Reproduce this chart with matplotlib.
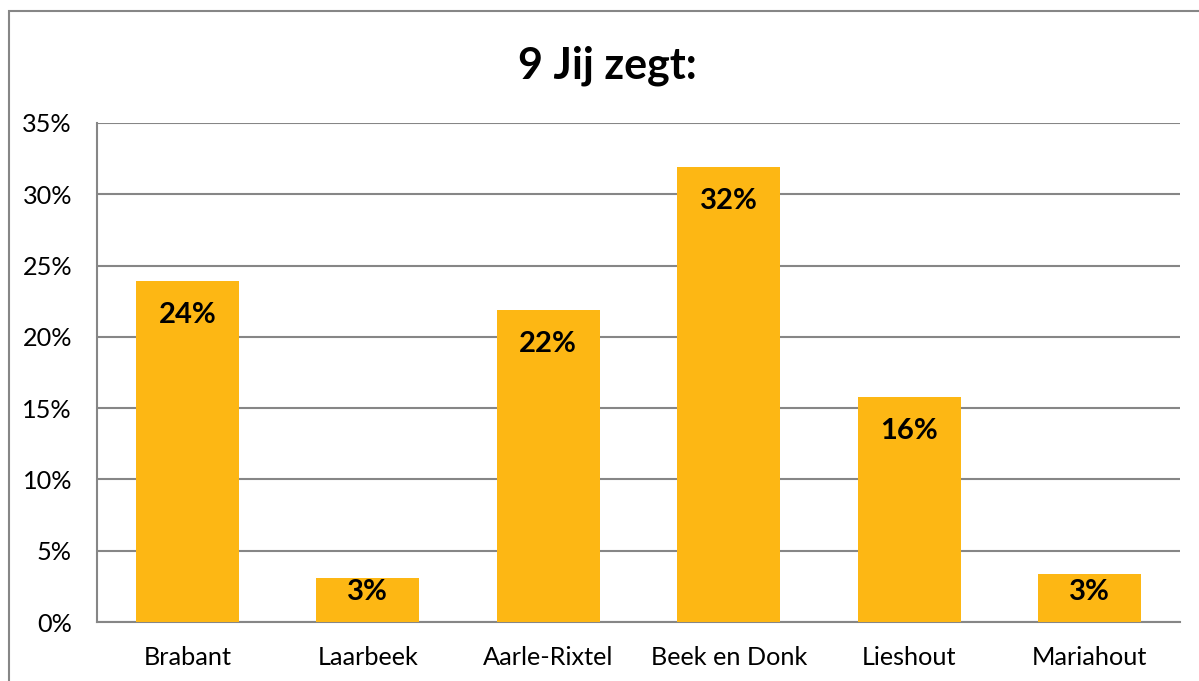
import matplotlib
matplotlib.use("Agg")
import matplotlib.pyplot as plt
from matplotlib.patches import Rectangle
from matplotlib.ticker import FuncFormatter

categories = ["Brabant", "Laarbeek", "Aarle-Rixtel", "Beek en Donk", "Lieshout", "Mariahout"]
values = [23.9, 3.1, 21.9, 31.9, 15.8, 3.4]
labels = ["24%", "3%", "22%", "32%", "16%", "3%"]
yticks = [0, 5, 10, 15, 20, 25, 30, 35]

plt.rcParams["font.family"] = ["Lato", "DejaVu Sans"]

W, H = 1199, 681
fig = plt.figure(figsize=(W / 100, H / 100), dpi=100)
fig.patch.set_facecolor("white")

# outer chart border (left and top visible)
fig.patches.append(Rectangle((9 / W, -0.1), 1.2, 1 - 11 / H + 0.1, transform=fig.transFigure,
                             fill=False, edgecolor="#868686", lw=1.5))

ax = fig.add_axes([97 / W, 1 - 622 / H, (1180 - 97) / W, (622 - 123) / H])
x = range(len(categories))
bars = ax.bar(x, values, width=0.57, color="#FDB714", zorder=3)

ax.set_xlim(-0.5, len(categories) - 0.5)
ax.set_ylim(0, 35)
ax.set_yticks(yticks)
ax.yaxis.set_major_formatter(FuncFormatter(lambda v, p: f"{v:.0f}%"))
ax.set_xticks(list(x))
ax.set_xticklabels(categories)
ax.tick_params(axis="both", length=0, labelsize=18.2, colors="black")
ax.tick_params(axis="y", pad=18)
ax.tick_params(axis="x", pad=17)

ax.grid(axis="y", color="#868686", lw=1.5, zorder=0)
for s in ["top", "right"]:
    ax.spines[s].set_visible(False)
ax.spines["left"].set_color("#868686")
ax.spines["bottom"].set_color("#868686")
ax.spines["left"].set_linewidth(1.5)
ax.spines["bottom"].set_linewidth(1.5)

# labels sit just inside the bar top; short bars keep them inside the bar
for b, lab in zip(bars, labels):
    v = b.get_height()
    ax.text(b.get_x() + b.get_width() / 2, max(v - 2.38, 2.1), lab,
            ha="center", va="center", fontsize=21, fontweight="bold", zorder=4)

fig.text(607 / W, 1 - 66 / H, "9 Jij zegt:", ha="center", va="center",
         fontsize=31, fontweight="bold")

fig.savefig("out.png", dpi=100)
